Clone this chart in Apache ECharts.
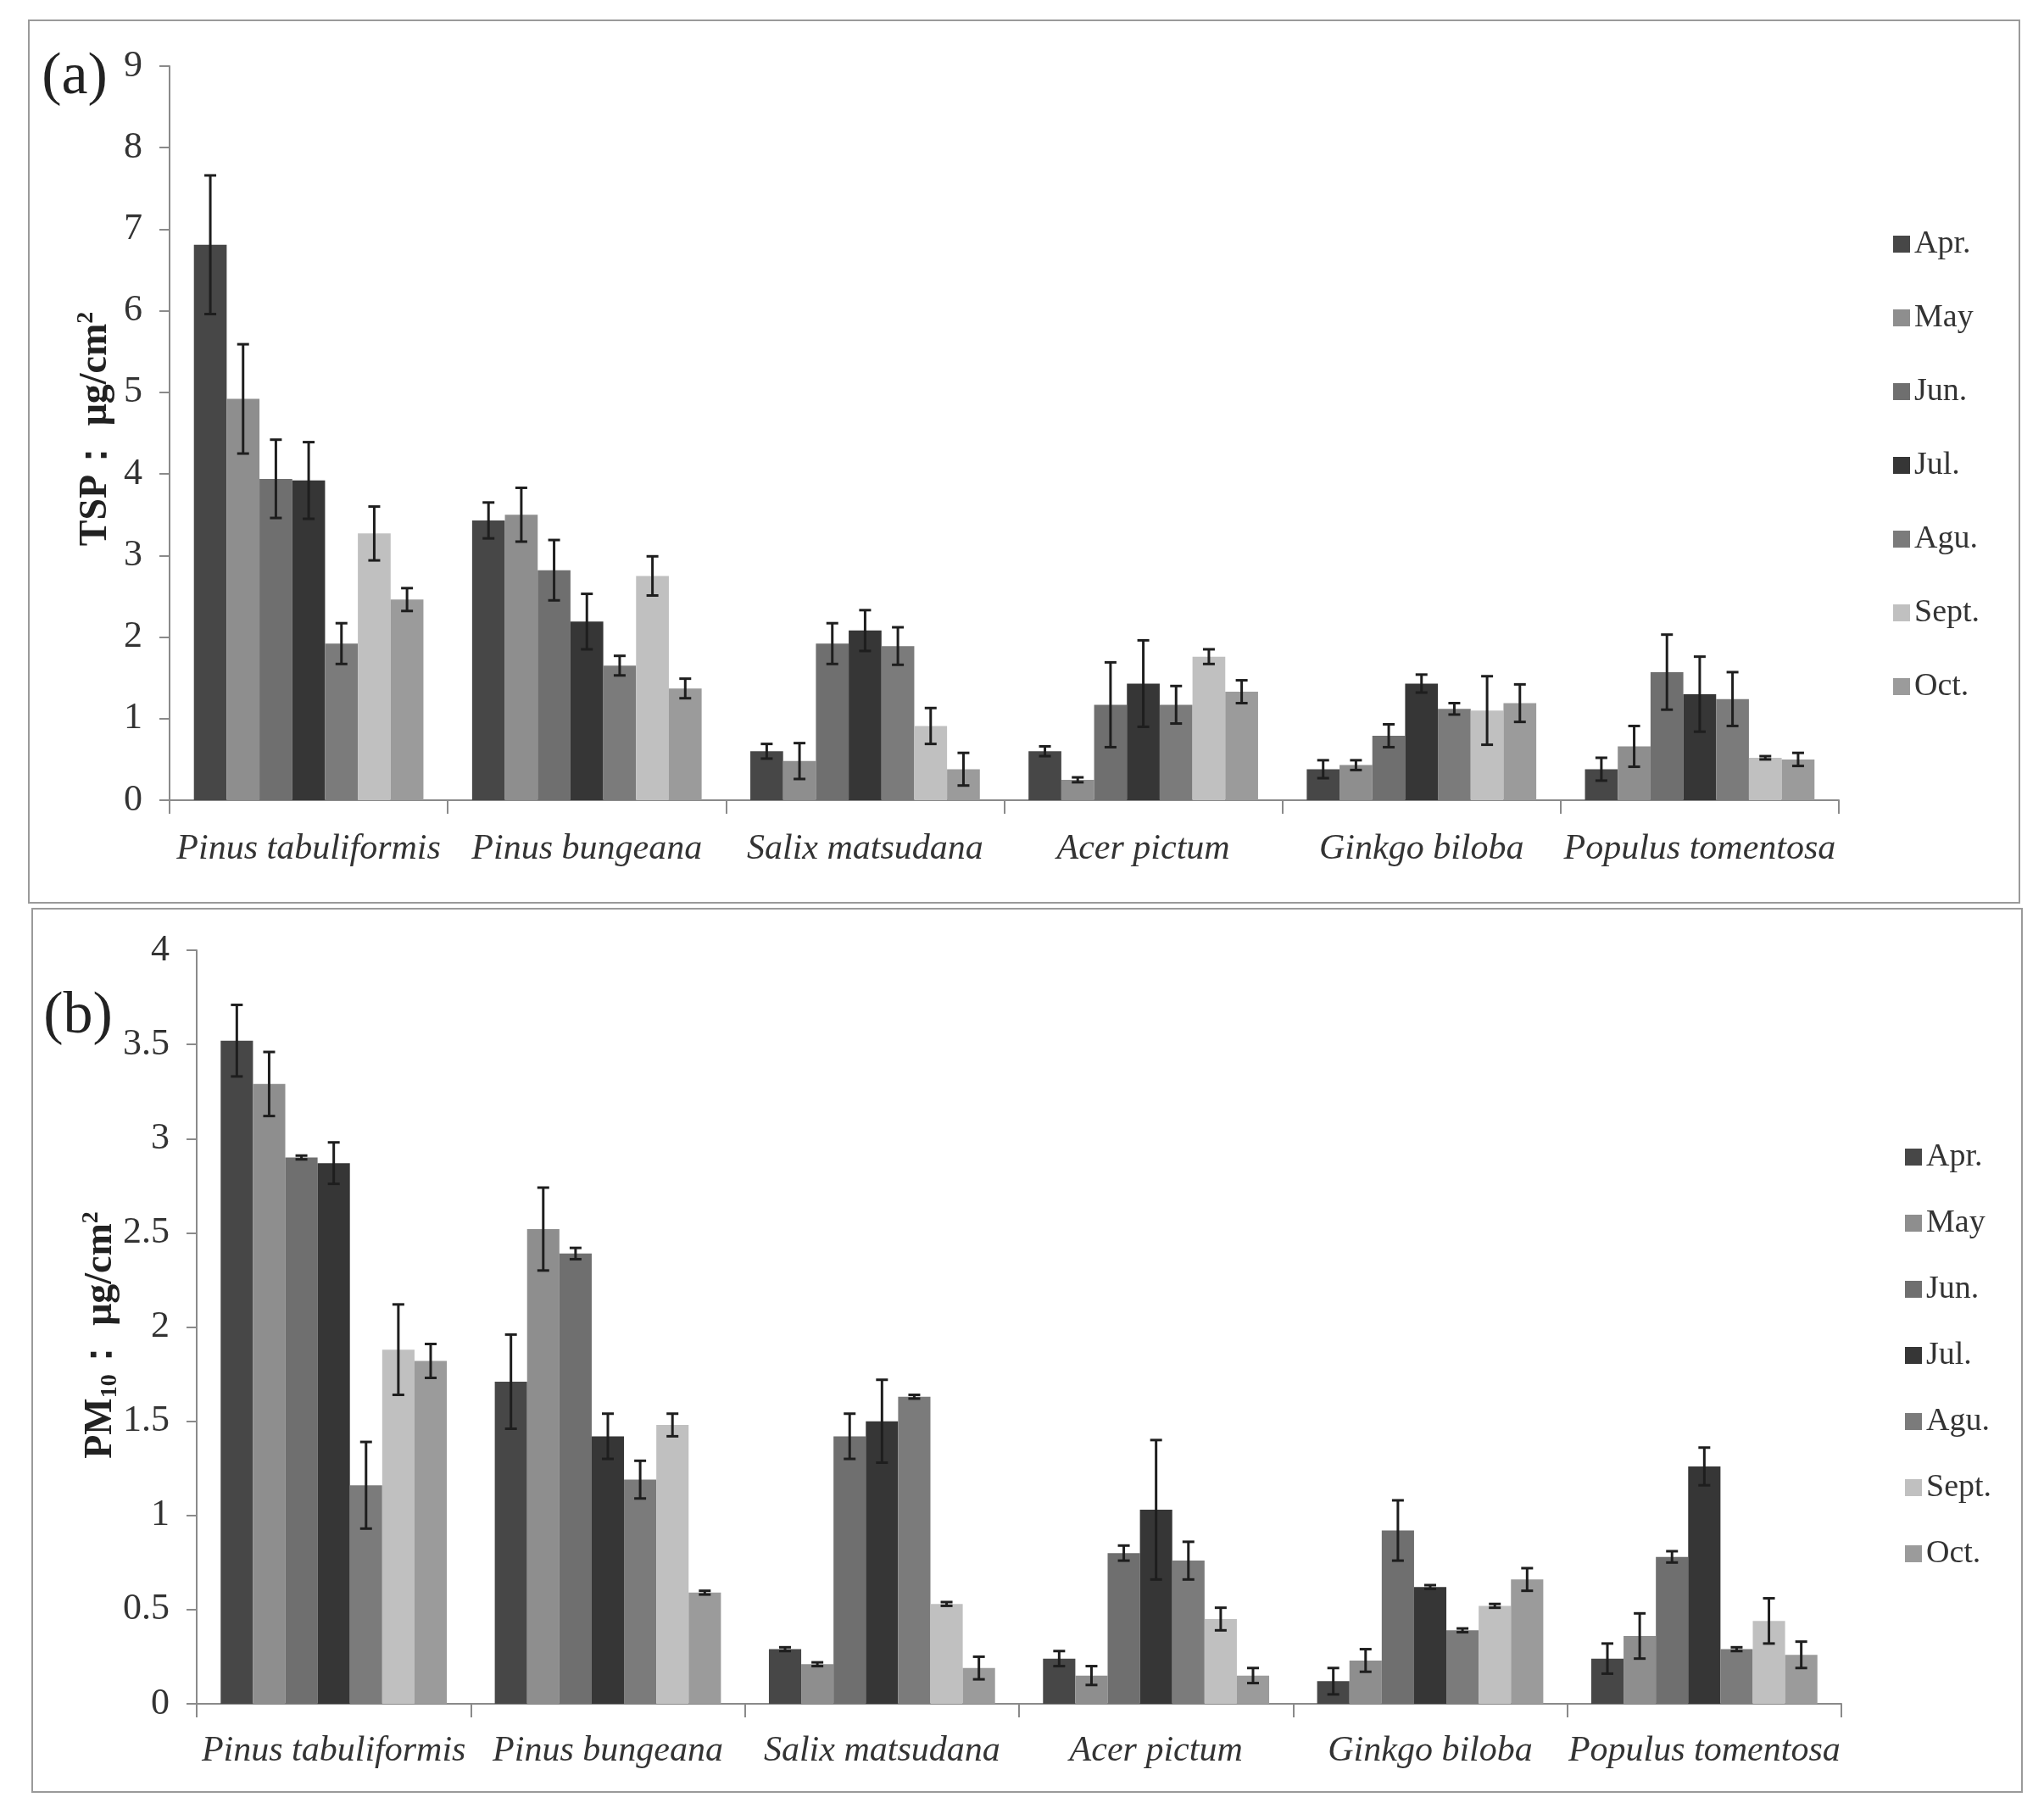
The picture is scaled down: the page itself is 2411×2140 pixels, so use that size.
<!DOCTYPE html>
<html>
<head>
<meta charset="utf-8">
<script src="https://cdn.jsdelivr.net/npm/echarts@6/dist/echarts.min.js"></script>
<style>
  html, body { margin: 0; padding: 0; background: #fff; }
  #chart { width: 2411px; height: 2140px; }
</style>
</head>
<body>
<div id="chart"></div>
<script>
// tree species (x categories) and sampling months (series)
var species = ['Pinus tabuliformis', 'Pinus bungeana', 'Salix matsudana', 'Acer pictum', 'Ginkgo biloba', 'Populus tomentosa'];
var months = ['Apr.', 'May', 'Jun.', 'Jul.', 'Agu.', 'Sept.', 'Oct.'];
var monthColors = ['#474747', '#8e8e8e', '#6f6f6f', '#363636', '#7b7b7b', '#c0c0c0', '#9b9b9b'];

// (a) TSP, ug/cm2 : one row per month, one value per species
var tspMean = [
  [6.81, 3.43, 0.60, 0.60, 0.38, 0.38],
  [4.92, 3.50, 0.48, 0.25, 0.43, 0.66],
  [3.94, 2.82, 1.92, 1.17, 0.79, 1.57],
  [3.92, 2.19, 2.08, 1.43, 1.43, 1.30],
  [1.92, 1.65, 1.89, 1.17, 1.12, 1.24],
  [3.27, 2.75, 0.91, 1.76, 1.10, 0.52],
  [2.46, 1.37, 0.38, 1.33, 1.19, 0.50]
];
var tspErr = [
  [0.85, 0.22, 0.09, 0.06, 0.11, 0.14],
  [0.67, 0.33, 0.22, 0.03, 0.06, 0.25],
  [0.48, 0.37, 0.25, 0.52, 0.14, 0.46],
  [0.47, 0.34, 0.25, 0.53, 0.11, 0.46],
  [0.25, 0.12, 0.23, 0.23, 0.07, 0.33],
  [0.33, 0.24, 0.22, 0.09, 0.42, 0.02],
  [0.14, 0.12, 0.20, 0.14, 0.23, 0.08]
];

// (b) PM10, ug/cm2
var pm10Mean = [
  [3.52, 1.71, 0.29, 0.24, 0.12, 0.24],
  [3.29, 2.52, 0.21, 0.15, 0.23, 0.36],
  [2.90, 2.39, 1.42, 0.80, 0.92, 0.78],
  [2.87, 1.42, 1.50, 1.03, 0.62, 1.26],
  [1.16, 1.19, 1.63, 0.76, 0.39, 0.29],
  [1.88, 1.48, 0.53, 0.45, 0.52, 0.44],
  [1.82, 0.59, 0.19, 0.15, 0.66, 0.26]
];
var pm10Err = [
  [0.19, 0.25, 0.01, 0.04, 0.07, 0.08],
  [0.17, 0.22, 0.01, 0.05, 0.06, 0.12],
  [0.01, 0.03, 0.12, 0.04, 0.16, 0.03],
  [0.11, 0.12, 0.22, 0.37, 0.01, 0.10],
  [0.23, 0.10, 0.01, 0.10, 0.01, 0.01],
  [0.24, 0.06, 0.01, 0.06, 0.01, 0.12],
  [0.09, 0.01, 0.06, 0.04, 0.06, 0.07]
];

var CAT_GAP = 0.175;
var serif = 'Liberation Serif';

function errData(mean, err) {
  var out = [];
  for (var m = 0; m < mean.length; m++) {
    for (var c = 0; c < mean[m].length; c++) {
      out.push([c, mean[m][c] - err[m][c], mean[m][c] + err[m][c], m]);
    }
  }
  return out;
}

function renderErr(params, api) {
  var cat = api.value(0), m = api.value(3);
  var band = api.size([1, 0])[0];
  var used = band * (1 - CAT_GAP);
  var bw = used / months.length;
  var x = api.coord([cat, 0])[0] - used / 2 + bw * (m + 0.5);
  var lo = api.coord([cat, api.value(1)])[1];
  var hi = api.coord([cat, api.value(2)])[1];
  var cap = 7;
  var st = { stroke: '#1e1e1e', lineWidth: 3 };
  return {
    type: 'group',
    children: [
      { type: 'line', shape: { x1: x, y1: lo, x2: x, y2: hi }, style: st },
      { type: 'line', shape: { x1: x - cap, y1: hi, x2: x + cap, y2: hi }, style: st },
      { type: 'line', shape: { x1: x - cap, y1: lo, x2: x + cap, y2: lo }, style: st }
    ]
  };
}

var series = [];
[tspMean, pm10Mean].forEach(function (means, g) {
  months.forEach(function (name, m) {
    series.push({
      name: name,
      type: 'bar',
      xAxisIndex: g,
      yAxisIndex: g,
      barGap: '0%',
      barCategoryGap: (CAT_GAP * 100) + '%',
      itemStyle: { color: monthColors[m] },
      data: means[m]
    });
  });
});
series.push({
  type: 'custom', name: 'errTSP', xAxisIndex: 0, yAxisIndex: 0, z: 10,
  renderItem: renderErr, encode: { x: 0, y: [1, 2] }, data: errData(tspMean, tspErr)
});
series.push({
  type: 'custom', name: 'errPM10', xAxisIndex: 1, yAxisIndex: 1, z: 10,
  renderItem: renderErr, encode: { x: 0, y: [1, 2] }, data: errData(pm10Mean, pm10Err)
});

var axisLineStyle = { color: '#8a8a8a', width: 2 };

function xAxis(gridIndex, margin) {
  return {
    type: 'category',
    gridIndex: gridIndex,
    data: species,
    axisLine: { lineStyle: axisLineStyle },
    axisTick: { show: true, length: 16, lineStyle: axisLineStyle },
    axisLabel: {
      margin: margin, interval: 0,
      fontFamily: serif, fontStyle: 'italic', fontSize: 42, color: '#333'
    }
  };
}
function yAxis(gridIndex, max, interval) {
  return {
    type: 'value',
    gridIndex: gridIndex,
    min: 0, max: max, interval: interval,
    splitLine: { show: false },
    axisLine: { show: true, lineStyle: axisLineStyle },
    axisTick: { show: true, length: 12, lineStyle: axisLineStyle },
    axisLabel: { margin: 32, fontFamily: serif, fontSize: 44, color: '#333' }
  };
}
function legend(left, top, gap) {
  return {
    orient: 'vertical', left: left, top: top,
    data: months, icon: 'rect', itemWidth: 20, itemHeight: 20, itemGap: gap,
    selectedMode: false,
    textStyle: { fontFamily: serif, fontSize: 38, lineHeight: 40, color: '#333' }
  };
}
function yTitle(x, y, head, sub) {
  var rich = {
    b: { fontFamily: serif, fontWeight: 'bold', fontSize: 46, fill: '#222' },
    sub: { fontFamily: serif, fontWeight: 'bold', fontSize: 28, fill: '#222', padding: [22, 0, 0, 0] },
    sup: { fontFamily: serif, fontWeight: 'bold', fontSize: 28, fill: '#222', padding: [0, 0, 22, 0] }
  };
  var txt = '{b|' + head + '}' + (sub ? '{sub|' + sub + '}' : '') + '{b|\uFF1A μg/cm}{sup|2}';
  return {
    type: 'text', x: x, y: y, rotation: Math.PI / 2,
    style: { text: txt, rich: rich, align: 'center', verticalAlign: 'middle' }
  };
}

var option = {
  backgroundColor: '#fff',
  animation: false,
  grid: [
    { left: 200, top: 78, width: 1969, height: 866, outerBoundsMode: 'none' },
    { left: 232, top: 1121, width: 1940, height: 889, outerBoundsMode: 'none' }
  ],
  xAxis: [xAxis(0, 37), xAxis(1, 35)],
  yAxis: [yAxis(0, 9, 1), yAxis(1, 4, 0.5)],
  legend: [legend(2228, 263, 47), legend(2242, 1340, 38)],
  graphic: [
    { type: 'rect', shape: { x: 34, y: 24, width: 2348, height: 1041 },
      style: { fill: 'none', stroke: '#9a9a9a', lineWidth: 2 } },
    { type: 'rect', shape: { x: 38, y: 1072, width: 2347, height: 1042 },
      style: { fill: 'none', stroke: '#9a9a9a', lineWidth: 2 } },
    { type: 'text', x: 88, y: 92,
      style: { text: '(a)', font: '70px "Liberation Serif"', fill: '#222', align: 'center', verticalAlign: 'middle' } },
    { type: 'text', x: 92, y: 1200,
      style: { text: '(b)', font: '70px "Liberation Serif"', fill: '#222', align: 'center', verticalAlign: 'middle' } },
    yTitle(113, 506, 'TSP', ''),
    yTitle(119, 1575, 'PM', '10')
  ],
  series: series
};

var chart = echarts.init(document.getElementById('chart'));
chart.setOption(option);
</script>
</body>
</html>
